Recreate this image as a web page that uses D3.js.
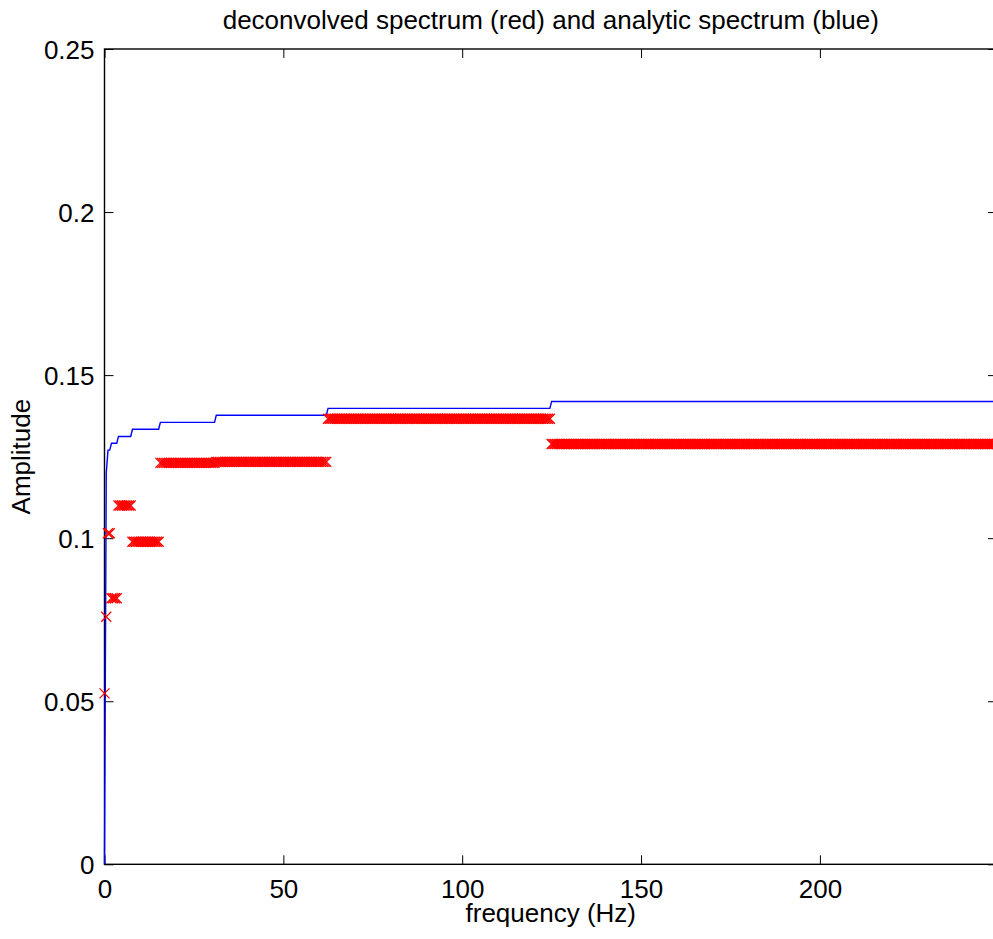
<!DOCTYPE html>
<html>
<head>
<meta charset="utf-8">
<script src="https://cdn.jsdelivr.net/npm/d3@7"></script>
<style>
  html, body { margin: 0; padding: 0; background: #fff; }
  svg { display: block; }
  text { font-family: "Liberation Sans", Arial, Helvetica, sans-serif; fill: #000; }
</style>
</head>
<body>
<svg id="chart" width="993" height="939"></svg>
<script>
// FFT grid: 500 Hz sampling, 1024-point transform, bins 0..511 shown
const sampleRate = 500;
const nfft = 1024;
const lastBin = 511;

// Dyadic bands (bin index ranges) and the amplitude held over each band
const bandFirstBin = [0, 1, 2, 4, 8, 16, 32, 64, 128, 256];
const bandLastBin  = [0, 1, 3, 7, 15, 31, 63, 127, 255, 511];
const deconvolvedAmp = [0.0524, 0.0759, 0.1015, 0.0816, 0.1100, 0.0989, 0.1231, 0.1234, 0.1366, 0.1289];
const analyticAmp    = [0.0000, 0.1200, 0.1270, 0.1291, 0.1312, 0.1334, 0.1355, 0.1377, 0.1398, 0.1419];

const xTicks = [0, 50, 100, 150, 200];
const yTicks = [0, 0.05, 0.1, 0.15, 0.2, 0.25];
const yTickLabels = ["0", "0.05", "0.1", "0.15", "0.2", "0.25"];

const titleText = "deconvolved spectrum (red) and analytic spectrum (blue)";
const xLabelText = "frequency (Hz)";
const yLabelText = "Amplitude";

// Expand band values onto every frequency bin
const df = sampleRate / nfft;
const points = [];
bandFirstBin.forEach((b0, i) => {
  for (let k = b0; k <= bandLastBin[i]; k++) {
    points.push({ f: k * df, red: deconvolvedAmp[i], blue: analyticAmp[i] });
  }
});

const svg = d3.select("#chart");
const plot = { left: 104.5, right: 997, top: 49, bottom: 864.3 };

const x = d3.scaleLinear().domain([0, lastBin * df]).range([plot.left, plot.right]);
const y = d3.scaleLinear().domain([0, 0.25]).range([plot.bottom, plot.top]);

svg.append("rect").attr("width", 993).attr("height", 939).attr("fill", "#fff");

const tickLen = 9;
const fontSize = 26;
const font = '"Liberation Sans", Arial, sans-serif';

// Bottom axis with labels, top axis ticks only
const xAxisBottom = d3.axisBottom(x).tickValues(xTicks).tickSize(-tickLen).tickPadding(tickLen + 6).tickFormat(d3.format("d"));
const gxb = svg.append("g").attr("transform", `translate(0,${plot.bottom})`).call(xAxisBottom);
const xAxisTop = d3.axisTop(x).tickValues(xTicks).tickSize(-tickLen).tickFormat("");
const gxt = svg.append("g").attr("transform", `translate(0,${plot.top})`).call(xAxisTop);

// Left axis with labels, right axis ticks only
const yAxisLeft = d3.axisLeft(y).tickValues(yTicks).tickSize(-tickLen).tickPadding(tickLen + 1)
  .tickFormat((d, i) => yTickLabels[i]);
const gyl = svg.append("g").attr("transform", `translate(${plot.left},0)`).call(yAxisLeft);
const yAxisRight = d3.axisRight(y).tickValues(yTicks).tickSize(-tickLen).tickFormat("");
const gyr = svg.append("g").attr("transform", `translate(${plot.right},0)`).call(yAxisRight);

[gxb, gxt, gyl, gyr].forEach(g => {
  g.select(".domain").remove();
  g.selectAll(".tick line").attr("stroke", "#000").attr("stroke-width", 1);
  g.selectAll(".tick text").attr("font-size", fontSize).attr("fill", "#000")
    .style("font-family", font);
});
gxb.selectAll(".tick text").attr("dy", "0.71em");
gyl.selectAll(".tick text").attr("dy", "0.36em");

// Axes box
svg.append("rect")
  .attr("x", plot.left).attr("y", plot.top)
  .attr("width", plot.right - plot.left).attr("height", plot.bottom - plot.top)
  .attr("fill", "none").attr("stroke", "#000").attr("stroke-width", 1.4);

const marks = svg.append("g");

// Analytic spectrum: blue line
marks.append("path")
  .datum(points)
  .attr("fill", "none")
  .attr("stroke", "#0000ff")
  .attr("stroke-width", 1.4)
  .attr("d", d3.line().x(d => x(d.f)).y(d => y(d.blue)));

// Deconvolved spectrum: red x markers
const h = 5;
marks.append("g")
  .selectAll("path")
  .data(points)
  .join("path")
  .attr("transform", d => `translate(${x(d.f)},${y(d.red)})`)
  .attr("d", `M${-h},${-h}L${h},${h}M${-h},${h}L${h},${-h}`)
  .attr("stroke", "#ff0000")
  .attr("stroke-width", 1.3)
  .attr("fill", "none");

// Title and axis labels
const cx = (plot.left + plot.right) / 2;
svg.append("text").attr("x", cx).attr("y", 28.5).attr("text-anchor", "middle")
  .attr("font-size", fontSize).text(titleText);
svg.append("text").attr("x", cx).attr("y", 922).attr("text-anchor", "middle")
  .attr("font-size", fontSize).text(xLabelText);
svg.append("text")
  .attr("transform", `translate(30,${(plot.top + plot.bottom) / 2}) rotate(-90)`)
  .attr("text-anchor", "middle")
  .attr("font-size", fontSize).text(yLabelText);
</script>
</body>
</html>
